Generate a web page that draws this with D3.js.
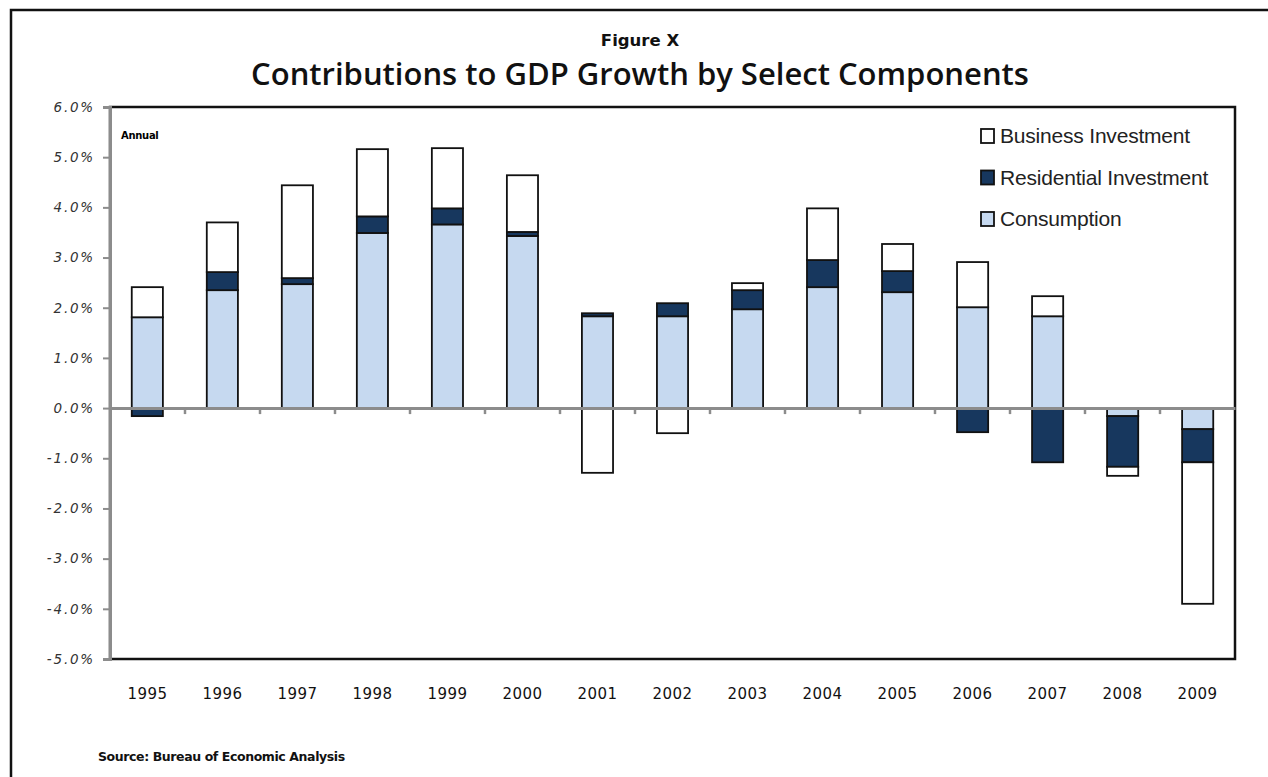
<!DOCTYPE html>
<html><head><meta charset="utf-8">
<script src="https://cdn.jsdelivr.net/npm/d3@7"></script>
<style>body{margin:0;background:#fff}svg{display:block}</style>
</head><body>
<svg id="c" width="1268" height="777"></svg>
<script>
const years = ["1995","1996","1997","1998","1999","2000","2001","2002","2003","2004","2005","2006","2007","2008","2009"];
const consumption = [1.81,2.35,2.47,3.49,3.66,3.43,1.83,1.83,1.97,2.41,2.31,2.01,1.83,-0.16,-0.42];
const residential = [-0.16,0.36,0.12,0.33,0.32,0.08,0.06,0.26,0.38,0.54,0.42,-0.48,-1.08,-1.01,-0.66];
const business = [0.60,0.99,1.85,1.34,1.20,1.13,-1.29,-0.50,0.14,1.03,0.54,0.90,0.40,-0.18,-2.82];
const seriesNames = ["Consumption","Residential Investment","Business Investment"];
const seriesColors = ["#c6d9f0","#17375e","#ffffff"];
const yTicks = [6,5,4,3,2,1,0,-1,-2,-3,-4,-5];

const svg = d3.select("#c");
const L=110, R=1235, T=107, B=659;
const x = d3.scaleBand().domain(years).range([L,R]).paddingInner(0.585).paddingOuter(0.29);
const xb = d3.scaleBand().domain(years).range([L,R]);
const y = d3.scaleLinear().domain([-5,6]).range([B,T]);

// outer frame
svg.append("path").attr("d",`M11,777 L11,10 L1268,10`).attr("fill","none").attr("stroke","#111").attr("stroke-width",2.5);

// titles
svg.append("text").attr("x",640).attr("y",46).attr("text-anchor","middle")
  .attr("font-family","'DejaVu Sans', sans-serif").attr("font-weight","bold").attr("font-size",16.5).attr("fill","#111").text("Figure X");
svg.append("text").attr("x",640).attr("y",85).attr("text-anchor","middle")
  .attr("font-family","'Open Sans', Lato, sans-serif").attr("font-weight",600).attr("font-size",31).attr("fill","#111")
  .text("Contributions to GDP Growth by Select Components");

// plot border
svg.append("rect").attr("x",L).attr("y",T).attr("width",R-L).attr("height",B-T).attr("fill","#fff").attr("stroke","#111").attr("stroke-width",2.5);

// stacking
const data = years.map((yr,i)=>({year:yr, vals:[consumption[i],residential[i],business[i]]}));
const g = svg.append("g");
data.forEach(d=>{
  let pos=0,neg=0;
  d.vals.forEach((v,k)=>{
    let y0,y1;
    if(v>=0){y0=pos;y1=pos+v;pos=y1;} else {y0=neg;y1=neg+v;neg=y1;}
    g.append("rect").attr("x",x(d.year)).attr("width",x.bandwidth())
      .attr("y",y(Math.max(y0,y1))).attr("height",Math.abs(y(y0)-y(y1)))
      .attr("fill",seriesColors[k]).attr("stroke","#111").attr("stroke-width",1.8);
  });
});

// y axis
const ya = svg.append("g").attr("transform",`translate(${L},0)`)
  .call(d3.axisLeft(y).tickValues(yTicks).tickSize(7).tickFormat(d=>d.toFixed(1)+"%"));
ya.select(".domain").attr("stroke","#8c8c8c").attr("stroke-width",3);
ya.selectAll(".tick line").attr("stroke","#8c8c8c").attr("stroke-width",2);
ya.selectAll(".tick text").attr("font-family","'DejaVu Sans', sans-serif").attr("font-size",13.5).attr("letter-spacing",1.8).attr("font-style","italic").attr("fill","#333").attr("x",-15);

// zero line with category ticks
const xa = svg.append("g").attr("transform",`translate(0,${y(0)})`)
  .call(d3.axisBottom(xb).tickValues([]).tickSize(0));
xa.select(".domain").attr("stroke","#8c8c8c").attr("stroke-width",3);
xa.selectAll(".bt").data(years.slice(1)).enter().append("line")
  .attr("x1",d=>xb(d)).attr("x2",d=>xb(d)).attr("y1",0).attr("y2",6).attr("stroke","#8c8c8c").attr("stroke-width",2.5);

// x labels
svg.append("g").selectAll("text").data(years).enter().append("text")
  .attr("x",d=>xb(d)+xb.bandwidth()/2).attr("y",699).attr("text-anchor","middle")
  .attr("font-family","'DejaVu Sans', sans-serif").attr("font-size",15).attr("letter-spacing",0.5).attr("fill","#111").text(d=>d);

// Annual
svg.append("text").attr("x",121).attr("y",139).attr("font-family","'DejaVu Sans', sans-serif").attr("font-weight","bold").attr("font-size",10).attr("letter-spacing",-0.3).text("Annual");

// legend
const lg = svg.append("g");
[2,1,0].forEach((k,i)=>{
  const yy = 137 + i*41.5;
  lg.append("rect").attr("x",981).attr("y",yy-8).attr("width",13).attr("height",14).attr("fill",seriesColors[k]).attr("stroke","#111").attr("stroke-width",1.8);
  lg.append("text").attr("x",1000).attr("y",yy+6).attr("font-family","'Liberation Sans', sans-serif")
    .attr("font-size",21).attr("letter-spacing",-0.2).attr("fill","#222").text(seriesNames[k]);
});

// source
svg.append("text").attr("x",98).attr("y",761).attr("font-family","'DejaVu Sans', sans-serif").attr("font-weight","bold").attr("font-size",12.5).attr("letter-spacing",-0.4).attr("fill","#111").text("Source: Bureau of Economic Analysis");
</script>
</body></html>
